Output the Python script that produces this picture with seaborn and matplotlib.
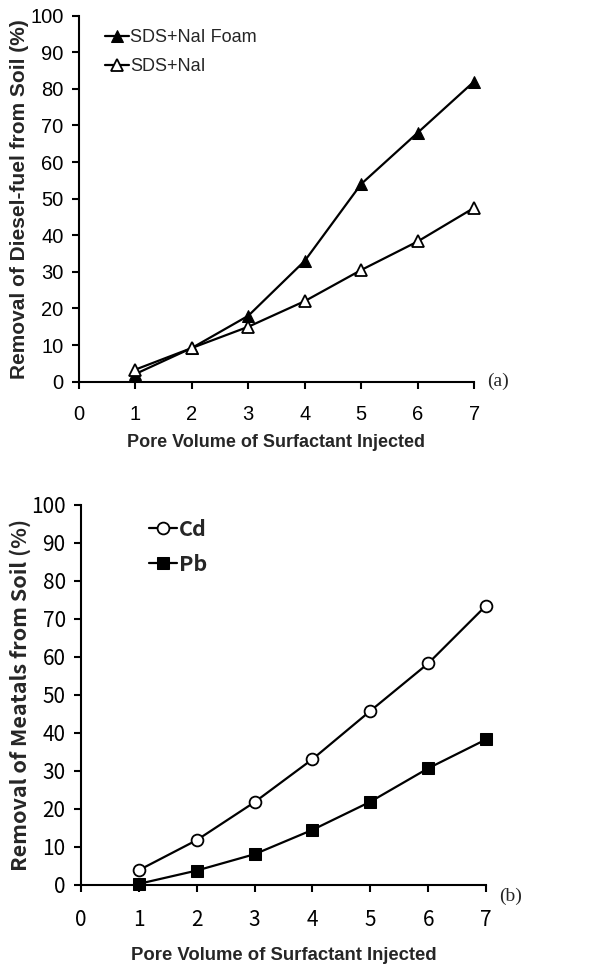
"""Removal of diesel fuel and metals from soil vs pore volume injected."""
import matplotlib
matplotlib.use("Agg")
import matplotlib.pyplot as plt
import seaborn as sns
import pandas as pd

# Panel (a): diesel-fuel removal
pore_volume = [1, 2, 3, 4, 5, 6, 7]
sds_nai_foam = [2.1, 9.2, 18.0, 33.0, 54.0, 68.0, 82.0]
sds_nai = [3.3, 9.2, 15.0, 22.0, 30.5, 38.3, 47.5]

# Panel (b): metal removal
cd_removal = [3.9, 11.8, 21.8, 33.1, 45.8, 58.3, 73.5]
pb_removal = [0.3, 3.8, 8.1, 14.5, 21.9, 30.7, 38.3]

x_ticks = [0, 1, 2, 3, 4, 5, 6, 7]
y_ticks = list(range(0, 101, 10))

sns.set_theme(style="ticks")

fig = plt.figure(figsize=(6.07, 9.67), dpi=100)
ax_a = fig.add_axes([0.130, 0.6053, 0.651, 0.3785])
ax_b = fig.add_axes([0.1334, 0.0848, 0.6673, 0.393])


def style_axis(ax, font, tick_size, ylabel, ylabel_size, panel_tag, tag_y,
               xpad, xlabel_size, ypad):
    ax.set_xlim(0, 7)
    ax.set_ylim(0, 100)
    ax.set_xticks(x_ticks)
    ax.set_yticks(y_ticks)
    for side in ("top", "right"):
        ax.spines[side].set_visible(False)
    for side in ("left", "bottom"):
        ax.spines[side].set_linewidth(1.5)
        ax.spines[side].set_color("black")
    ax.tick_params(axis="both", direction="out", length=5, width=1.5,
                   colors="black", labelsize=tick_size, pad=6)
    ax.tick_params(axis="x", pad=12)
    for lab in ax.get_xticklabels() + ax.get_yticklabels():
        lab.set_family(font)
    ax.set_xlabel("Pore Volume of Surfactant Injected", family="Liberation Sans",
                  fontsize=xlabel_size, fontweight="bold", labelpad=xpad)
    ax.set_ylabel(ylabel, family=font, fontsize=ylabel_size, fontweight="bold",
                  labelpad=ypad)
    ax.text(1.06, tag_y, panel_tag, transform=ax.transAxes, family="Liberation Serif",
            fontsize=14, ha="center", va="center", clip_on=False)


df_a = pd.DataFrame({"pv": pore_volume, "foam": sds_nai_foam, "plain": sds_nai})
sns.lineplot(data=df_a, x="pv", y="foam", ax=ax_a, color="black", lw=1.6,
             marker="^", markersize=9, markerfacecolor="black",
             markeredgecolor="black", label="SDS+NaI Foam", clip_on=False)
sns.lineplot(data=df_a, x="pv", y="plain", ax=ax_a, color="black", lw=1.6,
             marker="^", markersize=9, markerfacecolor="white",
             markeredgecolor="black", markeredgewidth=1.3, label="SDS+NaI",
             clip_on=False)
ax_a.legend(loc="upper left", bbox_to_anchor=(0.025, 1.007), frameon=False,
            handlelength=1.3, handletextpad=0.1, labelspacing=0.65,
            prop={"family": "Liberation Sans", "size": 13})
style_axis(ax_a, "Liberation Sans", 14.5, "Removal of Diesel-fuel from Soil (%)", 15,
           "(a)", 0.0, 7, 13, 1)

df_b = pd.DataFrame({"pv": pore_volume, "cd": cd_removal, "pb": pb_removal})
sns.lineplot(data=df_b, x="pv", y="cd", ax=ax_b, color="black", lw=1.6,
             marker="o", markersize=8.5, markerfacecolor="white",
             markeredgecolor="black", markeredgewidth=1.3, label="Cd", clip_on=False)
sns.lineplot(data=df_b, x="pv", y="pb", ax=ax_b, color="black", lw=1.6,
             marker="s", markersize=8.5, markerfacecolor="black",
             markeredgecolor="black", label="Pb", clip_on=False)
ax_b.legend(loc="upper left", bbox_to_anchor=(0.12, 1.015), frameon=False,
            handlelength=1.3, handletextpad=0.1, labelspacing=0.65,
            prop={"family": "Noto Sans CJK KR", "size": 15.5, "weight": "bold"})
style_axis(ax_b, "Noto Sans CJK KR", 15, "Removal of Meatals from Soil (%)", 15.5,
           "(b)", -0.03, 12, 13.3, 0)

fig.savefig("out.png", dpi=100, facecolor="white")
